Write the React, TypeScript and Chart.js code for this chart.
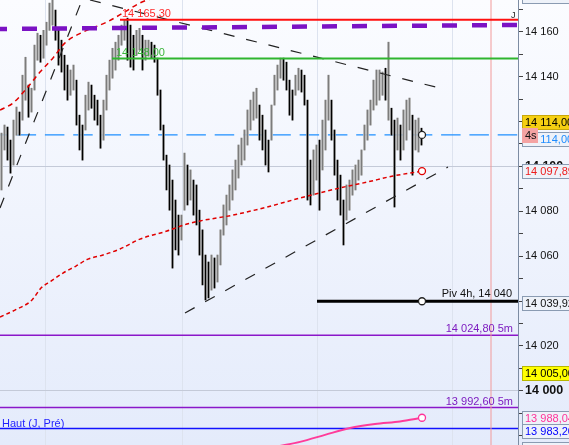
import React, { useEffect, useRef } from 'react';
import { Chart, registerables } from 'chart.js';

Chart.register(...registerables);

const FONT = '"Liberation Sans", Arial, Helvetica, sans-serif';

// ---- price bars: one per period (high / low) ----
const highs = [
  14114.8, 14118.4, 14117.5, 14111.7, 14120.6, 14126.4, 14124.2, 14140.6, 14148.6, 14136.2,
  14134.8, 14154.0, 14159.3, 14158.4, 14160.6, 14164.2, 14172.7, 14175.0, 14169.6, 14160.6,
  14156.2, 14149.5, 14145.1, 14142.9, 14145.1, 14138.4, 14122.8, 14118.4, 14131.7, 14137.5,
  14136.2, 14131.7, 14129.5, 14122.8, 14129.5, 14140.6, 14147.3, 14152.6, 14155.3, 14158.4,
  14162.9, 14165.1, 14166.0, 14162.9, 14158.4, 14160.6, 14161.5, 14158.4, 14156.2, 14156.2,
  14155.3, 14154.0, 14148.2, 14134.0, 14118.4, 14105.0, 14100.6, 14093.9, 14085.0, 14078.3,
  14078.3, 14105.9, 14100.6, 14098.4, 14093.9, 14091.7, 14080.5, 14071.7, 14060.5, 14057.4,
  14060.5, 14059.2, 14060.5, 14071.7, 14082.8, 14087.2, 14091.7, 14098.4, 14102.8, 14109.5,
  14112.6, 14116.2, 14125.1, 14129.5, 14133.1, 14134.8, 14127.3, 14122.8, 14116.2, 14111.7,
  14127.3, 14140.6, 14145.1, 14148.2, 14148.2, 14146.4, 14138.4, 14134.0, 14140.6, 14143.7,
  14142.9, 14140.6, 14129.5, 14102.8, 14107.3, 14109.5, 14111.7, 14120.6, 14129.5, 14140.6,
  14129.5, 14116.2, 14102.8, 14096.1, 14085.0, 14091.7, 14093.9, 14098.4, 14100.6, 14102.8,
  14107.3, 14118.4, 14125.1, 14129.5, 14138.4, 14142.9, 14142.9, 14142.0, 14143.7, 14155.3,
  14125.9, 14120.6, 14121.5, 14118.4, 14125.1, 14129.5, 14130.4, 14122.8, 14120.6, 14121.5,
  14117.0,
];
const lows = [
  14089.5, 14107.3, 14102.8, 14097.0, 14100.6, 14113.9, 14113.9, 14120.6, 14129.5, 14121.9,
  14124.2, 14134.0, 14147.3, 14146.4, 14148.2, 14154.0, 14160.6, 14162.9, 14156.2, 14145.1,
  14142.0, 14134.0, 14129.5, 14131.7, 14134.0, 14118.4, 14107.3, 14102.8, 14116.2, 14125.1,
  14125.9, 14120.6, 14118.4, 14108.1, 14111.7, 14125.1, 14134.0, 14139.3, 14142.9, 14147.3,
  14154.0, 14156.2, 14147.3, 14144.2, 14142.9, 14149.5, 14151.8, 14142.9, 14147.3, 14149.1,
  14148.2, 14146.4, 14131.7, 14116.2, 14102.8, 14089.5, 14080.5, 14054.7, 14062.8, 14060.5,
  14067.2, 14080.5, 14082.8, 14085.0, 14078.3, 14073.9, 14060.5, 14047.2, 14040.5, 14041.4,
  14044.9, 14045.8, 14048.5, 14056.1, 14069.4, 14073.9, 14080.5, 14085.0, 14089.5, 14094.8,
  14100.6, 14102.8, 14109.5, 14116.2, 14120.6, 14121.5, 14111.7, 14107.3, 14100.6, 14097.5,
  14111.7, 14127.3, 14134.0, 14139.3, 14138.4, 14134.0, 14122.8, 14120.6, 14131.7, 14134.0,
  14133.1, 14127.3, 14085.0, 14082.8, 14087.2, 14093.9, 14080.5, 14098.4, 14107.3, 14120.6,
  14111.7, 14096.1, 14085.0, 14078.3, 14065.0, 14076.1, 14080.5, 14087.2, 14089.5, 14093.9,
  14096.1, 14107.3, 14111.7, 14118.4, 14125.1, 14127.3, 14129.5, 14131.7, 14129.5, 14120.6,
  14113.9, 14081.9, 14107.3, 14102.8, 14107.3, 14111.7, 14116.2, 14096.1, 14107.3, 14106.4,
  14109.5,
];

// ---- axes ----
const yTicks = [13980, 13990, 14000, 14010, 14020, 14030, 14040, 14050, 14060, 14070,
  14080, 14090, 14100, 14110, 14120, 14130, 14140, 14150, 14160, 14170];
const timeGrid = [15.33, 61, 106, 151];
const sessionMark = 163.67;
const X_MIN = 0;
const X_MAX = 172.67;
const Y_MIN = 13975.9;
const Y_MAX = 14174.1;

// ---- moving averages ----
const maX = [0, 5, 10.67, 13.67, 17, 21, 25.33, 29.33, 34.33, 40, 46.67, 55.67, 62.33, 66.67, 77.67, 89, 100, 113.33, 122.33, 131, 140.67];
const maY = [14032.9, 14036.0, 14040.5, 14045.8, 14048.9, 14052.5, 14055.6, 14058.7, 14060.5, 14063.2, 14067.6, 14071.2, 14074.3, 14075.7, 14078.3, 14081.9, 14085.9, 14090.4, 14093.0, 14095.7, 14097.89];
const envX = [0, 4.33, 9, 13.33, 17.67, 21.67, 27.67, 35.67, 41, 46.67, 53.33];
const envY = [14125.1, 14128.2, 14134.9, 14142.0, 14148.3, 14155.0, 14159.8, 14164.3, 14168.3, 14172.8, 14175.9];
const pinkX = [93.33, 100, 108.33, 116.67, 125, 133.33, 140.67];
const pinkY = [13975.5, 13977.3, 13980.4, 13983.5, 13985.3, 13986.4, 13988.04];

// ---- trend lines ----
const trendAX = [0, 28];
const trendAY = [14081.5, 14176.3];
const trendBX = [30, 147.67];
const trendBY = [14174.1, 14134.5];
const trendCX = [61.67, 149.33];
const trendCY = [14034.7, 14099.7];

// ---- levels ----
const lastPrice = 14114;
const lastX = 140.67;
const dayHigh = 14165.3;
const dayHighFrom = 40;
const level148 = 14148;
const level148From = 37.33;
const purpleDashX = [0, 172.67];
const purpleDashY = [14161.2, 14163.0];
const pivot4h = 14039.92;
const pivotFrom = 105.67;
const level5mA = 14024.8;
const level5mB = 13992.6;
const hautJPre = 13983.2;
const level14005 = 14005;

const fmt = (v: number, dec = 0) => {
  const s = v.toFixed(dec);
  const [i, d] = s.split('.');
  const ii = i.replace(/\B(?=(\d{3})+(?!\d))/g, ' ');
  return d ? ii + ',' + d : ii;
};

const pts = (xs: number[], ys: number[]) => xs.map((x, i) => ({ x, y: ys[i] }));
const hline = (y: number, from = X_MIN, to = X_MAX) => [{ x: from, y }, { x: to, y }];

const baseLine = { type: 'line' as const, pointRadius: 0, fill: false, borderWidth: 1, tension: 0 };

const mids = highs.map((h, i) => (h + lows[i]) / 2);
const isDown = mids.map((m, i) => i > 0 && m < mids[i - 1]);
const grayBars = highs.map((h, i) => ({ x: i + 0.5, y: [lows[i], h] }));
const innerBars = highs.map((h, i) => ({ x: i + 0.5, y: [lows[i], h] }));

const lastIdx = maY.length - 1;

const overlayPlugin = {
  id: 'overlay',
  beforeDraw(chart: any) {
    const { ctx, width, height } = chart;
    ctx.save();
    const g = ctx.createLinearGradient(0, 0, 0, height);
    g.addColorStop(0, '#fbfcff');
    g.addColorStop(1, '#e4ebfb');
    ctx.fillStyle = g;
    ctx.fillRect(0, 0, width, height);
    ctx.restore();
  },
  afterDatasetsDraw(chart: any) {
    const { ctx } = chart;
    const xs = chart.scales.x;
    const ys = chart.scales.y;
    ctx.save();
    ctx.font = `11px ${FONT}`;
    ctx.textBaseline = 'alphabetic';
    ctx.fillStyle = '#ff2b2b';
    ctx.textAlign = 'left';
    ctx.fillText(fmt(dayHigh, 2), xs.getPixelForValue(dayHighFrom) + 2, ys.getPixelForValue(dayHigh) - 3);
    ctx.fillStyle = '#3cb63c';
    ctx.fillText(fmt(level148, 2), xs.getPixelForValue(level148From) + 4, ys.getPixelForValue(level148) - 3);
    ctx.fillStyle = '#1f1fff';
    ctx.fillText('Haut (J, Pré)', 2, ys.getPixelForValue(hautJPre) - 2);
    ctx.textAlign = 'right';
    const rx = xs.getPixelForValue(X_MAX) - 5;
    ctx.fillStyle = '#111';
    ctx.fillText('Piv 4h, ' + fmt(Math.round(pivot4h)), rx - 1, ys.getPixelForValue(pivot4h) - 4);
    ctx.fillStyle = '#7d1cc0';
    ctx.fillText(fmt(level5mA, 2) + ' 5m', rx, ys.getPixelForValue(level5mA) - 3);
    ctx.fillText(fmt(level5mB, 2) + ' 5m', rx, ys.getPixelForValue(level5mB) - 3);
    ctx.fillStyle = '#222';
    ctx.textAlign = 'left';
    ctx.font = `9px ${FONT}`;
    ctx.fillText('J', rx - 2, 18);
    ctx.restore();
  },
  afterDraw(chart: any) {
    const { ctx } = chart;
    const ys = chart.scales.y;
    const left = chart.chartArea.right;
    const boxes = [
      { v: Y_MAX, off: -4, text: '', fill: '#eef2f9', border: '#8a9bb2', color: '#000', w: 48 },
      { v: lastPrice, off: -13, text: fmt(lastPrice, 2), fill: '#f5cf12', border: '#c9a80a', color: '#000', w: 48 },
      { v: lastPrice, off: 4, text: fmt(lastPrice, 2), fill: '#eef2f9', border: '#8a9bb2', color: '#1e8cff', w: 48 },
      { v: lastPrice, off: 0.5, text: '4s', fill: '#f4a3a3', border: '#f4a3a3', color: '#111', w: 15 },
      { v: maY[lastIdx], off: 0, text: fmt(maY[lastIdx], 2), fill: '#eef2f9', border: '#8a9bb2', color: '#ee1c1c', w: 48 },
      { v: pivot4h, off: 1.5, text: fmt(pivot4h, 2), fill: '#eef2f9', border: '#8a9bb2', color: '#111', w: 48 },
      { v: level14005, off: -7, text: fmt(level14005, 2), fill: '#ffff00', border: '#b8b800', color: '#000', w: 48 },
      { v: pinkY[pinkY.length - 1], off: 0, text: fmt(pinkY[pinkY.length - 1], 2), fill: '#eef2f9', border: '#8a9bb2', color: '#ff3399', w: 48 },
      { v: hautJPre, off: 2, text: fmt(hautJPre, 2), fill: '#eef2f9', border: '#8a9bb2', color: '#0000ff', w: 48 },
      { v: Y_MIN, off: 4, text: '', fill: '#eef2f9', border: '#8a9bb2', color: '#000', w: 48 },
    ];
    ctx.save();
    ctx.font = `11px ${FONT}`;
    ctx.textBaseline = 'middle';
    ctx.textAlign = 'left';
    for (const b of boxes) {
      const cy = Math.round(ys.getPixelForValue(b.v) + b.off);
      const top = cy - 7;
      ctx.fillStyle = b.fill;
      ctx.fillRect(left + 4.5, top + 0.5, b.w, 14);
      ctx.strokeStyle = b.border;
      ctx.lineWidth = 1;
      ctx.strokeRect(left + 4.5, top + 0.5, b.w, 14);
      if (b.text) {
        ctx.fillStyle = b.color;
        ctx.fillText(b.text, left + 7, cy + 1);
      }
    }
    ctx.restore();
  },
};

export default function App() {
  const ref = useRef<HTMLCanvasElement>(null);
  useEffect(() => {
    const canvas = ref.current!;
    const datasets: any[] = [
      { ...baseLine, data: hline(lastPrice), borderColor: '#1e90ff', borderWidth: 1.2, borderDash: [19.5, 8.8], borderDashOffset: 11.7, order: 20 },
      { ...baseLine, data: hline(level5mA), borderColor: '#8b17c9', borderWidth: 1.5, order: 19 },
      { ...baseLine, data: hline(level5mB), borderColor: '#8b17c9', borderWidth: 1.5, order: 19 },
      { ...baseLine, data: hline(hautJPre), borderColor: '#1212ff', borderWidth: 1.5, order: 19 },
      { ...baseLine, data: pts(pinkX, pinkY), borderColor: '#ff3c9a', borderWidth: 2, tension: 0.3, order: 18 },
      { ...baseLine, data: [{ x: sessionMark, y: Y_MIN }, { x: sessionMark, y: Y_MAX }], borderColor: '#f29a9a', order: 18 },
      { type: 'bar', data: grayBars, backgroundColor: '#d4d4d4', barThickness: 2, grouped: false, order: 15 },
      {
        type: 'bar', data: innerBars, barThickness: 1, grouped: false, order: 14,
        backgroundColor: isDown.map((d) => (d ? '#000' : '#7c7c7c')),
      },
      { ...baseLine, data: pts(maX, maY), borderColor: '#e00000', borderWidth: 1.5, borderDash: [4, 3], cubicInterpolationMode: 'monotone', order: 10 },
      { ...baseLine, data: pts(envX, envY), borderColor: '#e00000', borderWidth: 1.5, borderDash: [5, 4], cubicInterpolationMode: 'monotone', order: 10 },
      { ...baseLine, data: pts(trendAX, trendAY), borderColor: '#222', borderWidth: 1.2, borderDash: [11, 12], order: 9 },
      { ...baseLine, data: pts(trendBX, trendBY), borderColor: '#222', borderWidth: 1.2, borderDash: [11, 12], order: 9 },
      { ...baseLine, data: pts(trendCX, trendCY), borderColor: '#222', borderWidth: 1.2, borderDash: [11, 12], order: 9 },
      { ...baseLine, data: hline(dayHigh, dayHighFrom), borderColor: '#ff1010', borderWidth: 2, order: 8 },
      { ...baseLine, data: hline(level148, level148From), borderColor: '#2fb52f', borderWidth: 2, order: 8 },
      { ...baseLine, data: pts(purpleDashX, purpleDashY), borderColor: '#7b12c4', borderWidth: 4.5, borderDash: [15, 15], borderDashOffset: 8, order: 7 },
      { ...baseLine, data: hline(pivot4h, pivotFrom), borderColor: '#000', borderWidth: 3, order: 6 },
      {
        type: 'line', showLine: false, order: 1,
        data: [
          { x: lastX, y: lastPrice },
          { x: lastX, y: maY[lastIdx] },
          { x: lastX, y: pivot4h },
          { x: lastX, y: pinkY[pinkY.length - 1] },
        ],
        pointRadius: 3.5, pointBorderWidth: 1.3, pointBackgroundColor: '#fff',
        pointBorderColor: ['#222', '#e00000', '#222', '#ff3399'],
      },
    ];
    const chart = new Chart(canvas, {
      type: 'bar',
      data: { datasets },
      plugins: [overlayPlugin],
      options: {
        responsive: false,
        animation: false,
        devicePixelRatio: 1,
        events: [],
        layout: { padding: 0, autoPadding: false },
        plugins: { legend: { display: false }, tooltip: { enabled: false } },
        scales: {
          x: {
            type: 'linear', min: X_MIN, max: X_MAX, offset: false,
            afterBuildTicks: (s: any) => { s.ticks = timeGrid.map((v) => ({ value: v })); },
            ticks: { display: false },
            grid: { color: '#dde3ef', drawTicks: false, offset: false },
            border: { display: false },
            afterFit: (s: any) => { s.height = 0; s.paddingLeft = 0; s.paddingRight = 0; },
          },
          y: {
            type: 'linear', position: 'right', min: Y_MIN, max: Y_MAX,
            afterBuildTicks: (s: any) => { s.ticks = yTicks.map((v) => ({ value: v })); },
            ticks: {
              autoSkip: false,
              padding: 2,
              color: '#111',
              font: (c: any) => ({ family: FONT, size: c.tick && c.tick.value % 100 === 0 ? 12.5 : 11, weight: c.tick && c.tick.value % 100 === 0 ? 'bold' : 'normal' }),
              callback: (v: any) => (Number(v) % 20 === 0 ? fmt(Number(v)) : ''),
            },
            grid: {
              color: (c: any) => (c.tick && c.tick.value % 100 === 0 ? '#c4cad8' : 'rgba(0,0,0,0)'),
              tickColor: '#444',
              tickLength: 5,
            },
            border: { color: '#7d8ca3' },
            afterFit: (s: any) => { s.width = 51; s.paddingTop = 0; s.paddingBottom = 0; },
          },
        },
      } as any,
    } as any);
    return () => chart.destroy();
  }, []);
  return (
    <div style={{ position: 'fixed', left: 0, top: 0, width: 569, height: 445 }}>
      <canvas ref={ref} width={569} height={445} style={{ display: 'block', width: 569, height: 445 }} />
    </div>
  );
}
